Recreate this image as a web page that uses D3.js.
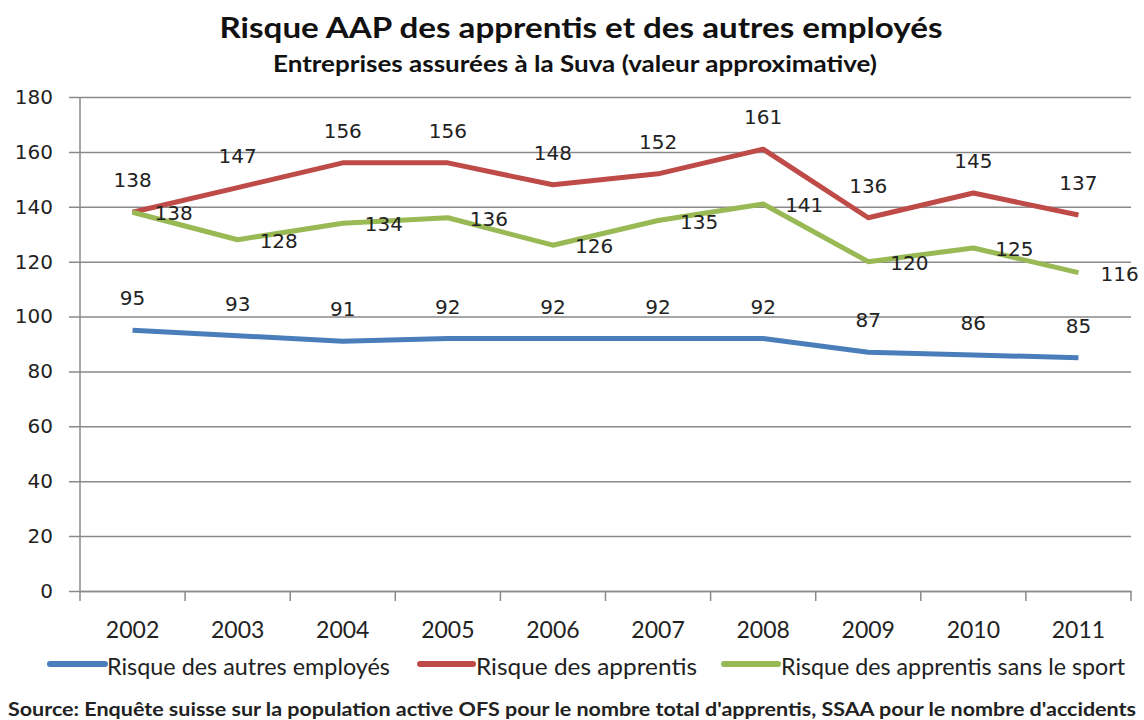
<!DOCTYPE HTML>
<html>
<head>
    <title>Risque AAP</title>
    <script type="text/javascript" src="https://cdn.jsdelivr.net/npm/d3@7/dist/d3.min.js"></script>
    <style>
        body { margin: 0; background-color: white; }
        .narrow { font-family: "Liberation Sans Narrow", "Arial Narrow", Lato, sans-serif; }
        .num { font-family: "DejaVu Sans", Verdana, sans-serif; font-size: 20px; fill: #222; }
    </style>
</head>

<body>
    <div id="panel"></div>

    <script>
        // data
        var years = ["2002", "2003", "2004", "2005", "2006", "2007", "2008", "2009", "2010", "2011"];
        var autres = [95, 93, 91, 92, 92, 92, 92, 87, 86, 85];
        var apprentis = [138, 147, 156, 156, 148, 152, 161, 136, 145, 137];
        var sansSport = [138, 128, 134, 136, 126, 135, 141, 120, 125, 116];
        var yTicks = [0, 20, 40, 60, 80, 100, 120, 140, 160, 180];
        var seriesNames = ["Risque des autres employés", "Risque des apprentis", "Risque des apprentis sans le sport"];
        var titleText = "Risque AAP des apprentis et des autres employés";
        var subtitleText = "Entreprises assurées à la Suva (valeur approximative)";
        var sourceText = "Source: Enquête suisse sur la population active OFS pour le nombre total d'apprentis, SSAA  pour le nombre d'accidents";

        var width = 1144, height = 720;
        var plot = {left: 80, right: 1131, top: 97, bottom: 591};

        var svg = d3.select("#panel").append("svg")
                    .attr("width", width)
                    .attr("height", height);

        var x = d3.scaleBand().domain(years).range([plot.left, plot.right]);
        var y = d3.scaleLinear().domain([0, 180]).range([plot.bottom, plot.top]);
        var cx = function(i) { return x(years[i]) + x.bandwidth() / 2; };

        // titles
        svg.append("text").attr("class", "narrow")
            .attr("x", 581).attr("y", 38)
            .attr("text-anchor", "middle")
            .attr("font-size", 28).attr("font-weight", "bold").attr("fill", "#111")
            .attr("textLength", 723).attr("lengthAdjust", "spacingAndGlyphs")
            .text(titleText);
        svg.append("text").attr("class", "narrow")
            .attr("x", 575).attr("y", 72)
            .attr("text-anchor", "middle")
            .attr("font-size", 22).attr("font-weight", "bold").attr("fill", "#111")
            .attr("textLength", 604).attr("lengthAdjust", "spacingAndGlyphs")
            .text(subtitleText);

        // gridlines and y axis
        var yAxis = d3.axisLeft(y).tickValues(yTicks)
                      .tickSize(-(plot.right - plot.left)).tickSizeOuter(0);
        var gy = svg.append("g").attr("transform", "translate(" + plot.left + ",0)").call(yAxis);
        gy.select(".domain").remove();
        gy.selectAll(".tick line").attr("x1", -11).attr("stroke", "#8a8a8a").attr("stroke-width", 1.5);
        gy.selectAll(".tick text").attr("class", "num").attr("x", -27)
          .attr("fill", "#222").style("font-size", "20px");

        svg.append("line")
            .attr("x1", plot.left).attr("x2", plot.left)
            .attr("y1", plot.top).attr("y2", plot.bottom + 10)
            .attr("stroke", "#8a8a8a").attr("stroke-width", 1.5);

        // x axis
        var gx = svg.append("g").attr("transform", "translate(0," + plot.bottom + ")")
                    .call(d3.axisBottom(x).tickSize(0).tickPadding(31));
        gx.select(".domain").attr("stroke", "#8a8a8a").attr("stroke-width", 1.5);
        gx.selectAll(".tick text").attr("class", "narrow").attr("fill", "#222").style("font-size", "23px");
        years.forEach(function(yr) {
            gx.append("line")
              .attr("x1", x(yr) + x.bandwidth()).attr("x2", x(yr) + x.bandwidth())
              .attr("y1", 0).attr("y2", 10)
              .attr("stroke", "#8a8a8a").attr("stroke-width", 1.5);
        });

        // lines
        var series = [
            {name: seriesNames[0], values: autres, color: "#4a7ebb"},
            {name: seriesNames[1], values: apprentis, color: "#be4b48"},
            {name: seriesNames[2], values: sansSport, color: "#98b954"}
        ];
        var line = d3.line().x(function(d, i) { return cx(i); }).y(function(d) { return y(d); });
        series.forEach(function(s) {
            svg.append("path").datum(s.values)
                .attr("d", line)
                .attr("fill", "none")
                .attr("stroke", s.color)
                .attr("stroke-width", 5)
                .attr("stroke-linejoin", "round");
        });

        // data labels
        function labels(values, dx, dy, anchor) {
            svg.append("g").selectAll("text").data(values).join("text")
                .attr("class", "num")
                .attr("x", function(d, i) { return cx(i) + dx; })
                .attr("y", function(d) { return y(d) + dy; })
                .attr("text-anchor", anchor)
                .attr("dominant-baseline", "central")
                .text(function(d) { return d; });
        }
        labels(autres, 0, -32, "middle");
        labels(apprentis, 0, -32, "middle");
        labels(sansSport, 22, 1, "start");

        // legend
        var legend = [
            {x1: 50, x2: 105, tx: 107, tl: 283},
            {x1: 420, x2: 473, tx: 476, tl: 221},
            {x1: 724, x2: 778, tx: 781, tl: 344}
        ];
        legend.forEach(function(l, i) {
            svg.append("line")
                .attr("x1", l.x1).attr("x2", l.x2).attr("y1", 664).attr("y2", 664)
                .attr("stroke", series[i].color).attr("stroke-width", 6).attr("stroke-linecap", "round");
            svg.append("text").attr("class", "narrow")
                .attr("x", l.tx).attr("y", 675)
                .attr("font-size", 24).attr("fill", "#222")
                .attr("textLength", l.tl).attr("lengthAdjust", "spacingAndGlyphs")
                .text(series[i].name);
        });

        // source
        svg.append("text").attr("class", "narrow")
            .attr("x", 8).attr("y", 716)
            .attr("font-size", 18).attr("font-weight", "bold").attr("fill", "#222")
            .attr("textLength", 1128).attr("lengthAdjust", "spacingAndGlyphs")
            .text(sourceText);
    </script>
</body>
</html>
